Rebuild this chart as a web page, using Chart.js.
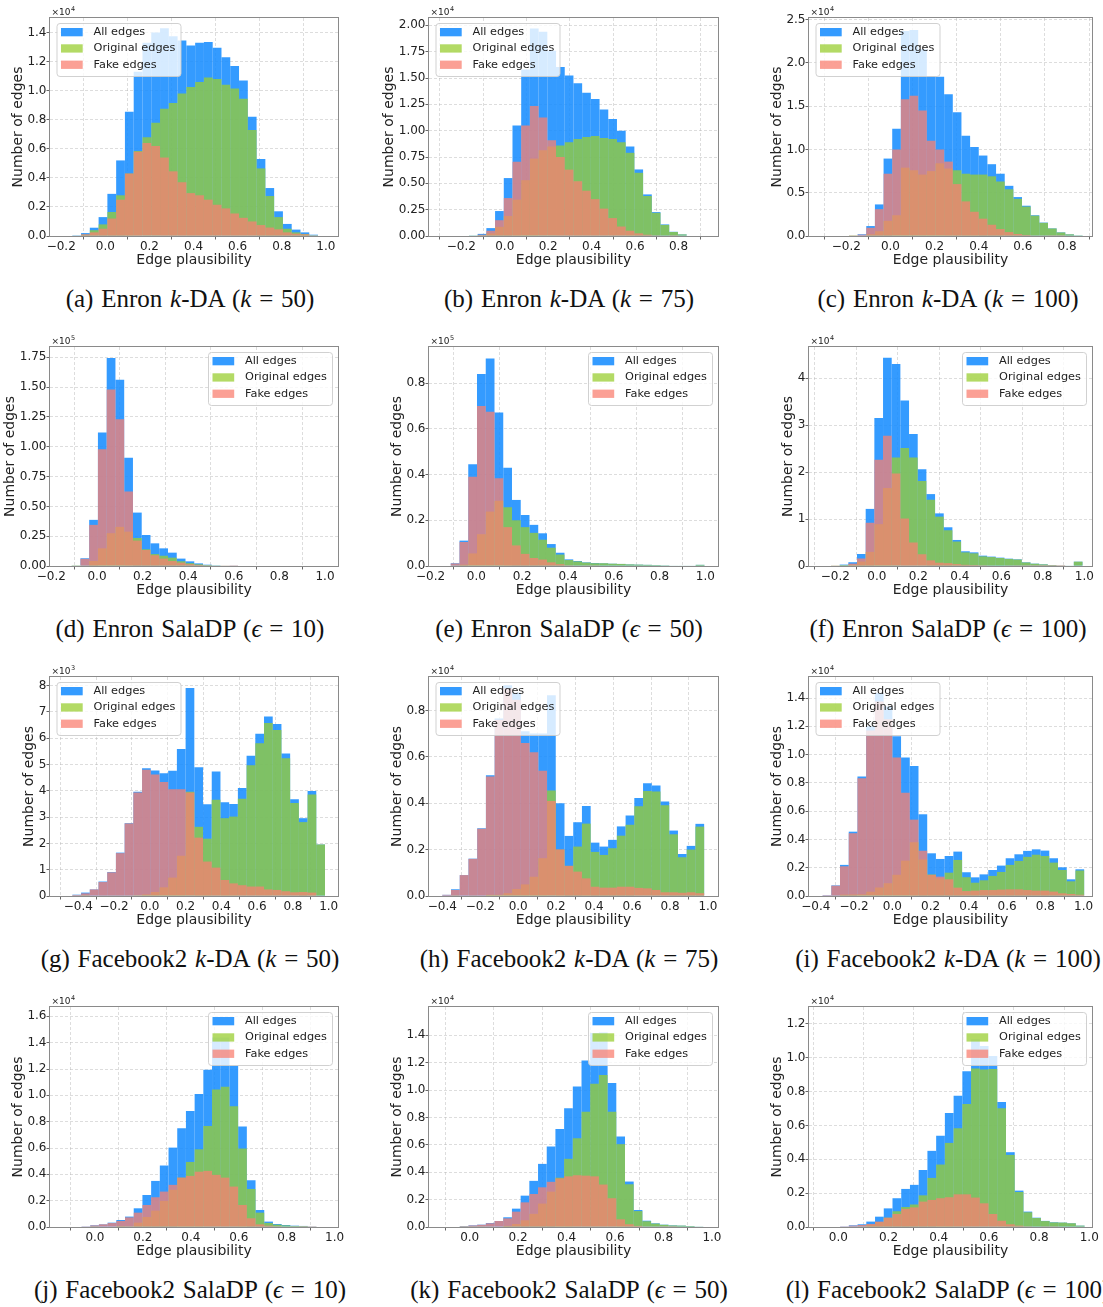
<!DOCTYPE html>
<html>
<head>
<meta charset="utf-8">
<title>Edge plausibility histograms</title>
<script src="https://cdn.jsdelivr.net/npm/chart.js@4.4.1/dist/chart.umd.min.js"></script>
<style>
  body { margin: 0; background: #fff; }
  #page { position: relative; width: 1103px; height: 1307px; overflow: hidden; background: #fff; }
  #page canvas { position: absolute; }
  .cap { position: absolute; transform: translateX(-50%); white-space: nowrap; word-spacing: 1.5px;
         font-family: 'Liberation Serif', 'Times New Roman', serif; font-size: 25px; line-height: 25px; color: #111; }
</style>
</head>
<body>
<div id="page"></div>
<script>
// ------------------- Data (bar heights in units of the axis multiplier) -------------------
const seriesNames = ['All edges', 'Original edges', 'Fake edges'];

// (a) Enron k-DA k=50, x10^4
const aBinStart = -0.150, aBinWidth = 0.0398;
const aAll  = [0.005,0.02,0.057,0.13,0.29,0.52,0.855,1.13,1.33,1.40,1.43,1.375,1.345,1.31,1.33,1.335,1.295,1.23,1.17,1.07,0.82,0.53,0.33,0.17,0.083,0.044,0.025,0.009];
const aOrig = [0.002,0.01,0.04,0.08,0.165,0.28,0.43,0.585,0.68,0.78,0.875,0.915,0.98,1.025,1.06,1.09,1.08,1.04,1.015,0.945,0.73,0.465,0.275,0.13,0.05,0.025,0.014,0.005];
const aFake = [0.003,0.012,0.025,0.05,0.12,0.25,0.43,0.58,0.64,0.62,0.54,0.445,0.37,0.295,0.28,0.25,0.215,0.19,0.155,0.125,0.10,0.075,0.058,0.046,0.025,0.016,0.012,0.004];

// (b) Enron k-DA k=75, x10^4
const bBinStart = -0.165, bBinWidth = 0.0401;
const bAll  = [0.006,0.02,0.075,0.237,0.55,1.05,1.58,1.97,1.94,1.76,1.605,1.525,1.45,1.36,1.30,1.20,1.11,1.00,0.85,0.632,0.395,0.227,0.11,0.04,0.015];
const bOrig = [0.002,0.008,0.025,0.087,0.19,0.345,0.53,0.735,0.815,0.85,0.86,0.89,0.92,0.94,0.95,0.93,0.92,0.89,0.79,0.6,0.38,0.22,0.105,0.038,0.015];
const bFake = [0.004,0.012,0.05,0.15,0.36,0.705,1.05,1.235,1.125,0.91,0.75,0.63,0.52,0.43,0.35,0.26,0.17,0.09,0.05,0.025,0.012,0.006,0.003,0.001,0.0];

// (c) Enron k-DA k=100, x10^4
const cBinStart = -0.188, cBinWidth = 0.0392;
const cAll  = [0.003,0.02,0.115,0.365,0.895,1.24,2.37,2.38,2.16,1.85,1.84,1.64,1.43,1.16,1.03,0.93,0.83,0.72,0.58,0.45,0.35,0.24,0.155,0.088,0.042,0.019,0.008];
const cOrig = [0.001,0.005,0.02,0.055,0.175,0.24,0.79,0.76,0.71,0.75,0.84,0.78,0.76,0.72,0.71,0.71,0.69,0.63,0.54,0.43,0.34,0.235,0.152,0.087,0.041,0.019,0.008];
const cFake = [0.002,0.015,0.095,0.31,0.72,1.0,1.58,1.62,1.45,1.1,1.0,0.86,0.6,0.4,0.28,0.2,0.13,0.08,0.045,0.023,0.012,0.006,0.003,0.001,0.001,0,0];

// (d) Enron SalaDP eps=10, x10^5
const dBinStart = -0.111, dBinWidth = 0.0384;
const dAll  = [0.005,0.065,0.387,1.12,1.745,1.563,0.907,0.448,0.26,0.19,0.148,0.112,0.062,0.039,0.022,0.011,0.006,0.004,0.002];
const dOrig = [0.001,0.005,0.042,0.148,0.275,0.328,0.288,0.235,0.14,0.1,0.086,0.07,0.04,0.024,0.014,0.008,0.005,0.004,0.003];
const dFake = [0.004,0.06,0.345,0.98,1.48,1.23,0.625,0.213,0.134,0.09,0.062,0.042,0.028,0.016,0.009,0.005,0.003,0.002,0.001];

// (e) Enron SalaDP eps=50, x10^5
const eBinStart = -0.112, eBinWidth = 0.0382;
const eAll  = [0.012,0.111,0.445,0.84,0.908,0.672,0.43,0.289,0.223,0.18,0.143,0.096,0.058,0.029,0.022,0.016,0.013,0.012,0.01,0.009,0.007,0.006,0.005,0.004,0.003,0.002,0.002,0.002,0.005];
const eOrig = [0.001,0.006,0.055,0.139,0.238,0.285,0.257,0.2,0.17,0.145,0.115,0.08,0.05,0.026,0.02,0.015,0.012,0.012,0.01,0.009,0.007,0.006,0.005,0.004,0.003,0.002,0.002,0.002,0.005];
const eFake = [0.011,0.105,0.39,0.70,0.675,0.384,0.17,0.09,0.053,0.035,0.028,0.016,0.008,0.003,0.002,0.001,0.001,0,0,0,0,0,0,0,0,0,0,0,0];

// (f) Enron SalaDP eps=100, x10^4
const fBinStart = -0.221, fBinWidth = 0.0418;
const fAll  = [0.01,0.03,0.08,0.255,1.215,3.15,4.43,4.30,3.52,2.81,2.06,1.53,1.12,0.824,0.554,0.313,0.29,0.22,0.2,0.178,0.156,0.142,0.078,0.05,0.035,0.021,0.014,0.007,0.092];
const fOrig = [0.005,0.02,0.03,0.095,0.3,0.89,1.66,2.31,2.51,2.31,1.81,1.41,1.05,0.76,0.52,0.29,0.27,0.205,0.19,0.17,0.15,0.138,0.075,0.048,0.034,0.02,0.013,0.007,0.092];
const fFake = [0.005,0.01,0.05,0.16,0.92,2.26,2.77,1.97,1.01,0.5,0.25,0.12,0.07,0.06,0.04,0.025,0.02,0.015,0.01,0.008,0.006,0.004,0.003,0.002,0.001,0.001,0.001,0,0];

// (g) Facebook2 k-DA k=50, x10^3
const gBinStart = -0.433, gBinWidth = 0.0487;
const gAll  = [0.05,0.13,0.25,0.55,0.91,1.65,2.77,3.97,4.86,4.77,4.67,4.76,5.59,7.91,4.9,3.49,4.74,3.57,3.5,4.11,5.33,6.17,6.83,6.54,5.42,3.68,2.96,3.99,1.96];
const gOrig = [0.01,0.03,0.0,0.02,0.01,0.02,0.01,0.03,0.06,0.15,0.33,0.7,1.53,3.97,2.63,2.18,3.66,2.96,3.02,3.70,4.97,5.81,6.58,6.31,5.24,3.54,2.81,3.86,1.96];
const gFake = [0.04,0.1,0.25,0.53,0.9,1.63,2.76,3.94,4.8,4.62,4.34,4.06,4.06,3.94,2.22,1.31,1.08,0.61,0.48,0.41,0.36,0.36,0.25,0.23,0.18,0.14,0.15,0.13,0.0];

// (h) Facebook2 k-DA k=75, x10^4
const hBinStart = -0.400, hBinWidth = 0.046;
const hAll  = [0.005,0.029,0.09,0.161,0.292,0.52,0.765,0.908,0.876,0.71,0.70,0.70,0.865,0.40,0.259,0.318,0.388,0.23,0.213,0.242,0.30,0.347,0.422,0.486,0.476,0.407,0.282,0.181,0.216,0.311];
const hOrig = [0,0.003,0,0.001,0.002,0.005,0.005,0.012,0.03,0.05,0.083,0.163,0.455,0.2,0.13,0.213,0.312,0.19,0.177,0.206,0.26,0.307,0.387,0.453,0.45,0.391,0.266,0.167,0.2,0.299];
const hFake = [0.005,0.026,0.09,0.16,0.29,0.515,0.76,0.896,0.846,0.66,0.62,0.54,0.41,0.201,0.13,0.105,0.076,0.04,0.036,0.036,0.04,0.04,0.035,0.033,0.026,0.016,0.016,0.014,0.016,0.012];

// (i) Facebook2 k-DA k=100, x10^4
const iBinStart = -0.365, iBinWidth = 0.0456;
const iAll  = [0.006,0.075,0.22,0.455,0.845,1.2,1.435,1.34,1.13,0.98,0.92,0.578,0.302,0.262,0.283,0.314,0.168,0.132,0.153,0.184,0.215,0.267,0.295,0.319,0.33,0.321,0.267,0.203,0.118,0.189];
const iOrig = [0,0.002,0.01,0.011,0.012,0.03,0.06,0.09,0.15,0.25,0.38,0.258,0.152,0.125,0.165,0.255,0.133,0.094,0.111,0.142,0.17,0.22,0.248,0.277,0.292,0.283,0.236,0.184,0.104,0.18];
const iFake = [0.006,0.073,0.21,0.444,0.833,1.17,1.376,1.25,0.98,0.73,0.54,0.32,0.15,0.137,0.118,0.059,0.035,0.038,0.042,0.042,0.045,0.047,0.047,0.042,0.038,0.038,0.031,0.019,0.014,0.009];

// (j) Facebook2 SalaDP eps=10, x10^4
const jBinStart = -0.056, jBinWidth = 0.0363;
const jAll  = [0.005,0.013,0.02,0.033,0.053,0.079,0.142,0.243,0.35,0.467,0.603,0.75,0.882,1.01,1.194,1.44,1.44,1.225,0.763,0.355,0.129,0.041,0.023,0.015,0.01,0.008,0.005];
const jOrig = [0,0.001,0,0.003,0.007,0.006,0.033,0.076,0.124,0.198,0.283,0.375,0.494,0.59,0.768,1.044,1.065,0.918,0.596,0.289,0.109,0.031,0.018,0.012,0.008,0.007,0.004];
const jFake = [0.005,0.012,0.02,0.03,0.046,0.073,0.109,0.167,0.226,0.269,0.32,0.375,0.388,0.42,0.426,0.396,0.375,0.307,0.167,0.066,0.02,0.01,0.005,0.003,0.002,0.001,0.001];

// (k) Facebook2 SalaDP eps=50, x10^4
const kBinStart = -0.041, kBinWidth = 0.0359;
const kAll  = [0.007,0.012,0.017,0.029,0.044,0.071,0.134,0.229,0.337,0.461,0.588,0.715,0.868,1.027,1.217,1.417,1.42,1.051,0.661,0.332,0.124,0.046,0.027,0.017,0.012,0.01,0.007,0.004];
const kOrig = [0.001,0.001,0.001,0.002,0,0.008,0.022,0.049,0.096,0.171,0.258,0.36,0.498,0.649,0.842,1.047,1.11,0.841,0.605,0.312,0.116,0.042,0.025,0.016,0.011,0.01,0.007,0.004];
const kFake = [0.006,0.011,0.016,0.027,0.044,0.063,0.112,0.18,0.241,0.29,0.33,0.355,0.37,0.378,0.375,0.37,0.31,0.21,0.056,0.02,0.008,0.004,0.002,0.001,0.001,0,0,0];

// (l) Facebook2 SalaDP eps=100, x10^4
const lBinStart = 0.007, lBinWidth = 0.0348;
const lAll  = [0.004,0.01,0.016,0.032,0.061,0.11,0.17,0.225,0.249,0.337,0.45,0.539,0.673,0.776,0.92,1.11,1.07,1.01,0.738,0.442,0.215,0.091,0.055,0.036,0.028,0.026,0.022,0.008];
const lOrig = [0,0.002,0.004,0.014,0.029,0.055,0.093,0.118,0.133,0.187,0.29,0.369,0.497,0.583,0.727,0.936,0.93,0.933,0.701,0.426,0.207,0.087,0.053,0.035,0.027,0.026,0.022,0.008];
const lFake = [0.004,0.008,0.012,0.018,0.032,0.055,0.077,0.107,0.116,0.15,0.16,0.17,0.176,0.193,0.193,0.174,0.14,0.077,0.037,0.016,0.008,0.004,0.002,0.001,0.001,0,0,0];

// ------------------- Tick labels -------------------
const xTicksWide  = [-0.4, -0.2, 0.0, 0.2, 0.4, 0.6, 0.8, 1.0];
const xTicksMid   = [-0.2, 0.0, 0.2, 0.4, 0.6, 0.8, 1.0];
const xTicksShort = [-0.2, 0.0, 0.2, 0.4, 0.6, 0.8];
const xTicksPos   = [0.0, 0.2, 0.4, 0.6, 0.8, 1.0];
const yTicksA = [0, 0.2, 0.4, 0.6, 0.8, 1.0, 1.2, 1.4];
const yTicksB = [0, 0.25, 0.5, 0.75, 1.0, 1.25, 1.5, 1.75, 2.0];
const yTicksC = [0, 0.5, 1.0, 1.5, 2.0, 2.5];
const yTicksD = [0, 0.25, 0.5, 0.75, 1.0, 1.25, 1.5, 1.75];
const yTicksE = [0, 0.2, 0.4, 0.6, 0.8];
const yTicksF = [0, 1, 2, 3, 4];
const yTicksG = [0, 1, 2, 3, 4, 5, 6, 7, 8];
const yTicksJ = [0, 0.2, 0.4, 0.6, 0.8, 1.0, 1.2, 1.4, 1.6];
const yTicksL = [0, 0.2, 0.4, 0.6, 0.8, 1.0, 1.2];

const captions = [
  '(a) Enron <i>k</i>-DA (<i>k</i> = 50)', '(b) Enron <i>k</i>-DA (<i>k</i> = 75)', '(c) Enron <i>k</i>-DA (<i>k</i> = 100)',
  '(d) Enron SalaDP (<i>ϵ</i> = 10)', '(e) Enron SalaDP (<i>ϵ</i> = 50)', '(f) Enron SalaDP (<i>ϵ</i> = 100)',
  '(g) Facebook2 <i>k</i>-DA (<i>k</i> = 50)', '(h) Facebook2 <i>k</i>-DA (<i>k</i> = 75)', '(i) Facebook2 <i>k</i>-DA (<i>k</i> = 100)',
  '(j) Facebook2 SalaDP (<i>ϵ</i> = 10)', '(k) Facebook2 SalaDP (<i>ϵ</i> = 50)', '(l) Facebook2 SalaDP (<i>ϵ</i> = 100)'
];

// ------------------- Panel setup -------------------
const panels = [
  { start: aBinStart, width: aBinWidth, all: aAll, orig: aOrig, fake: aFake, xMin: -0.251, xMax: 1.055, yMax: 1.50, xTicks: xTicksMid,   yTicks: yTicksA, dec: 1, exp: 4, legend: 'left' },
  { start: bBinStart, width: bBinWidth, all: bAll, orig: bOrig, fake: bFake, xMin: -0.349, xMax: 0.982, yMax: 2.07, xTicks: xTicksShort, yTicks: yTicksB, dec: 2, exp: 4, legend: 'left' },
  { start: cBinStart, width: cBinWidth, all: cAll, orig: cOrig, fake: cFake, xMin: -0.369, xMax: 0.913, yMax: 2.52, xTicks: xTicksShort, yTicks: yTicksC, dec: 1, exp: 4, legend: 'left' },
  { start: dBinStart, width: dBinWidth, all: dAll, orig: dOrig, fake: dFake, xMin: -0.206, xMax: 1.057, yMax: 1.837, xTicks: xTicksMid,  yTicks: yTicksD, dec: 2, exp: 5, legend: 'right' },
  { start: eBinStart, width: eBinWidth, all: eAll, orig: eOrig, fake: eFake, xMin: -0.207, xMax: 1.055, yMax: 0.958, xTicks: xTicksMid,  yTicks: yTicksE, dec: 1, exp: 5, legend: 'right' },
  { start: fBinStart, width: fBinWidth, all: fAll, orig: fOrig, fake: fFake, xMin: -0.327, xMax: 1.037, yMax: 4.66, xTicks: xTicksMid,   yTicks: yTicksF, dec: 0, exp: 4, legend: 'right' },
  { start: gBinStart, width: gBinWidth, all: gAll, orig: gOrig, fake: gFake, xMin: -0.558, xMax: 1.052, yMax: 8.33, xTicks: xTicksWide,  yTicks: yTicksG, dec: 0, exp: 3, legend: 'left' },
  { start: hBinStart, width: hBinWidth, all: hAll, orig: hOrig, fake: hFake, xMin: -0.470, xMax: 1.053, yMax: 0.944, xTicks: xTicksWide, yTicks: yTicksE, dec: 1, exp: 4, legend: 'left' },
  { start: iBinStart, width: iBinWidth, all: iAll, orig: iOrig, fake: iFake, xMin: -0.436, xMax: 1.044, yMax: 1.549, xTicks: xTicksWide, yTicks: yTicksA, dec: 1, exp: 4, legend: 'left' },
  { start: jBinStart, width: jBinWidth, all: jAll, orig: jOrig, fake: jFake, xMin: -0.1875, xMax: 1.014, yMax: 1.671, xTicks: xTicksPos, yTicks: yTicksJ, dec: 1, exp: 4, legend: 'right' },
  { start: kBinStart, width: kBinWidth, all: kAll, orig: kOrig, fake: kFake, xMin: -0.168, xMax: 1.025, yMax: 1.607, xTicks: xTicksPos,  yTicks: yTicksA, dec: 1, exp: 4, legend: 'right' },
  { start: lBinStart, width: lBinWidth, all: lAll, orig: lOrig, fake: lFake, xMin: -0.117, xMax: 1.011, yMax: 1.30, xTicks: xTicksPos,   yTicks: yTicksL, dec: 1, exp: 4, legend: 'right' }
];

const colLeft = [50, 429, 809], colRight = [338, 718, 1092];
const rowTop = [18, 347, 677, 1007], rowBottom = [236, 566, 896, 1227];
const capCenterX = [190, 569, 948], capCenterY = [298, 628, 958, 1289];

const C_ALL = 'rgba(30,144,255,0.9)';
const C_ORIG = 'rgba(154,205,50,0.75)';
const C_FAKE = 'rgba(250,128,114,0.75)';
const TEXT = '#222';
const FONT = "'DejaVu Sans', sans-serif";

// ------------------- Decorations: frame, legend, titles, offset text -------------------
const decoPlugin = {
  id: 'deco',
  afterDatasetsDraw(chart, args, opts) {
    const ctx = chart.ctx, a = chart.chartArea;
    const w = 124, h = 53;
    const x0 = opts.legend === 'left' ? a.left + 6.5 : a.right - 6 - w;
    const y0 = a.top + 5;
    ctx.save();
    ctx.beginPath();
    ctx.roundRect(x0 + 0.5, y0 + 0.5, w, h, 3);
    ctx.fillStyle = 'rgba(255,255,255,0.8)';
    ctx.fill();
    ctx.strokeStyle = 'rgba(204,204,204,0.9)';
    ctx.lineWidth = 1;
    ctx.stroke();
    const colors = [C_ALL, C_ORIG, C_FAKE];
    ctx.font = '11.3px ' + FONT;
    ctx.textBaseline = 'middle';
    ctx.textAlign = 'left';
    seriesNames.forEach((name, i) => {
      const cy = y0 + 9.2 + i * 16.3;
      ctx.fillStyle = colors[i];
      ctx.fillRect(x0 + 4.5, cy - 4.2, 21.7, 8.3);
      ctx.fillStyle = TEXT;
      ctx.fillText(name, x0 + 37, cy);
    });
    ctx.restore();
  },
  afterDraw(chart, args, opts) {
    const ctx = chart.ctx, a = chart.chartArea;
    ctx.save();
    // frame
    ctx.strokeStyle = '#8a8a8a';
    ctx.lineWidth = 1;
    ctx.strokeRect(a.left - 0.5, a.top - 0.5, a.right - a.left + 1, a.bottom - a.top + 1);
    // x title
    ctx.fillStyle = TEXT;
    ctx.font = '14px ' + FONT;
    ctx.textAlign = 'center';
    ctx.textBaseline = 'alphabetic';
    ctx.fillText('Edge plausibility', (a.left + a.right) / 2, a.bottom + 28);
    // y title, placed left of the widest tick label
    ctx.font = '12px ' + FONT;
    let mw = 0;
    chart.scales.y.ticks.forEach(t => { mw = Math.max(mw, ctx.measureText(String(t.label)).width); });
    const tx = a.left - 3.5 - mw - 5.5;
    ctx.translate(tx, (a.top + a.bottom) / 2);
    ctx.rotate(-Math.PI / 2);
    ctx.font = '14px ' + FONT;
    ctx.fillText('Number of edges', 0, 0);
    ctx.setTransform(1, 0, 0, 1, 0, 0);
    // offset text x10^n
    ctx.textAlign = 'left';
    ctx.font = '9px ' + FONT;
    ctx.fillText('\u00d710', a.left + 1.5, a.top - 3);
    const ow = ctx.measureText('\u00d710').width;
    ctx.font = '6.5px ' + FONT;
    ctx.fillText(String(opts.exp), a.left + 2 + ow, a.top - 7.5);
    ctx.restore();
  }
};

const toBars = (p, vals) => vals.map((v, i) => ({ x: p.start + (i + 0.5) * p.width, y: v }));
const fmtX = v => (v < -1e-9 ? '\u2212' : '') + Math.abs(v).toFixed(1);

const page = document.getElementById('page');

panels.forEach((p, idx) => {
  const col = idx % 3, row = Math.floor(idx / 3);
  const L = colLeft[col], R = colRight[col], T = rowTop[row], B = rowBottom[row];
  const W = R - L, H = B - T;
  const cv = document.createElement('canvas');
  cv.width = 50 + W + 12;
  cv.height = 18 + H + 40;
  cv.style.left = (L - 50) + 'px';
  cv.style.top = (T - 18) + 'px';
  cv.style.width = cv.width + 'px';
  cv.style.height = cv.height + 'px';
  page.appendChild(cv);

  const cap = document.createElement('div');
  cap.className = 'cap';
  cap.innerHTML = captions[idx];
  cap.style.left = capCenterX[col] + 'px';
  cap.style.top = (capCenterY[row] - 12.5) + 'px';
  page.appendChild(cap);

  const gridOpts = { color: 'rgba(176,176,176,0.55)', lineWidth: 0.8, drawTicks: true, tickLength: 3.5,
                     tickColor: '#555', tickWidth: 0.9, tickBorderDash: [] };
  const tickFont = { family: FONT, size: 12 };

  new Chart(cv, {
    type: 'bar',
    data: {
      datasets: [
        { label: seriesNames[0], data: toBars(p, p.all),  backgroundColor: C_ALL,  order: 3 },
        { label: seriesNames[1], data: toBars(p, p.orig), backgroundColor: C_ORIG, order: 2 },
        { label: seriesNames[2], data: toBars(p, p.fake), backgroundColor: C_FAKE, order: 1 }
      ]
    },
    options: {
      responsive: false,
      animation: false,
      devicePixelRatio: 1,
      layout: { padding: { left: 0, right: 12, top: 18, bottom: 0 } },
      datasets: { bar: { barPercentage: 1, categoryPercentage: 1, grouped: false, borderWidth: 0, inflateAmount: 0 } },
      plugins: { legend: { display: false }, tooltip: { enabled: false }, deco: { legend: p.legend, exp: p.exp } },
      scales: {
        x: {
          type: 'linear', min: p.xMin, max: p.xMax, offset: false,
          afterBuildTicks: s => { s.ticks = p.xTicks.map(v => ({ value: v })); },
          afterFit: s => { s.height = 40; },
          grid: gridOpts,
          border: { display: false, dash: [3, 2] },
          ticks: { font: tickFont, color: TEXT, padding: 0.5, maxRotation: 0, autoSkip: false, callback: v => fmtX(v) }
        },
        y: {
          type: 'linear', min: 0, max: p.yMax,
          afterBuildTicks: s => { s.ticks = p.yTicks.map(v => ({ value: v })); },
          afterFit: s => { s.width = 50; },
          grid: gridOpts,
          border: { display: false, dash: [3, 2] },
          ticks: { font: tickFont, color: TEXT, padding: 0, autoSkip: false, callback: v => v.toFixed(p.dec) }
        }
      }
    },
    plugins: [decoPlugin]
  });
});
</script>
</body>
</html>
